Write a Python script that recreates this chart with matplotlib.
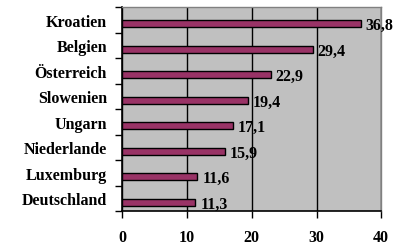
import matplotlib
matplotlib.use("Agg")
import matplotlib.pyplot as plt

countries = ["Deutschland", "Luxemburg", "Niederlande", "Ungarn", "Slowenien",
             "Österreich", "Belgien", "Kroatien"]
values = [11.3, 11.6, 15.9, 17.1, 19.4, 22.9, 29.4, 36.8]
value_labels = ["11,3", "11,6", "15,9", "17,1", "19,4", "22,9", "29,4", "36,8"]
x_ticks = [0, 10, 20, 30, 40]

font = "Liberation Serif"
fs = 11.5
fig = plt.figure(figsize=(4.03, 2.51), dpi=100)
ax = fig.add_axes([0.3035, 0.1545, 0.6425, 0.8135])
ax.set_facecolor("#C0C0C0")

n = len(countries)
ypos = list(range(n))
offset = -0.15
ax.barh([y + offset for y in ypos], values, height=0.28, color="#993366",
        edgecolor="black", linewidth=1.0, zorder=3)

for y, v, lab in zip(ypos, values, value_labels):
    ax.annotate(lab, (v, y + offset), xytext=(3.5, -1), textcoords="offset points",
                ha="left", va="center", fontsize=fs, fontweight="bold",
                family=font, color="black", zorder=4, annotation_clip=False)

ax.set_xlim(0, 40)
ax.set_ylim(-0.5, n - 0.5)
ax.set_xticks(x_ticks)
ax.set_xticklabels([str(t) for t in x_ticks], fontsize=fs, fontweight="bold", family=font)
ax.tick_params(axis="x", direction="out", length=5, width=1, pad=8, color="black")

ax.set_yticks([y - 0.5 for y in range(n + 1)])
ax.set_yticklabels([])
ax.tick_params(axis="y", which="major", direction="out", length=5, width=1)
ax.set_yticks(ypos, minor=True)
ax.set_yticklabels(countries, minor=True, fontsize=fs, fontweight="bold", family=font)
ax.tick_params(axis="y", which="minor", length=0, pad=11)

ax.grid(axis="x", color="black", linewidth=1, zorder=1)
ax.set_axisbelow(True)
for s in ["top", "right"]:
    ax.spines[s].set_color("#808080")
    ax.spines[s].set_linewidth(1)
for s in ["left", "bottom"]:
    ax.spines[s].set_color("black")
    ax.spines[s].set_linewidth(1.2)

fig.savefig("out.png", dpi=100)
